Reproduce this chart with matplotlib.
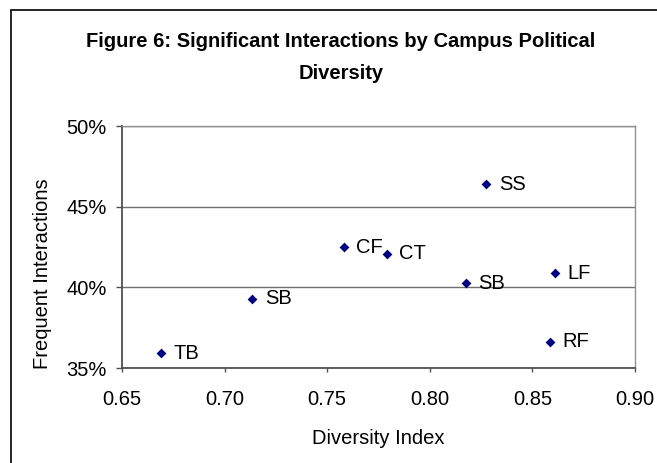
import matplotlib
matplotlib.use("Agg")
import matplotlib.pyplot as plt
from matplotlib.patches import Rectangle
from matplotlib.ticker import FuncFormatter

labels = ["TB", "SB", "CF", "CT", "SS", "SB", "LF", "RF"]
diversity = [0.669, 0.7135, 0.758, 0.779, 0.8275, 0.8175, 0.861, 0.8587]
frequent = [35.9, 39.3, 42.5, 42.07, 46.4, 40.25, 40.87, 36.63]

x_ticks = [0.65, 0.70, 0.75, 0.80, 0.85, 0.90]
y_ticks = [35, 40, 45, 50]

plt.rcParams['font.family'] = ['Liberation Sans', 'DejaVu Sans']

W, H = 657, 463
fig = plt.figure(figsize=(W / 100, H / 100), dpi=100)
fig.patch.set_facecolor('white')

# outer chart border
fig.add_artist(Rectangle((11 / W, -0.5), 2.0, 1.5 - 10 / H, transform=fig.transFigure,
                         fill=False, edgecolor='black', linewidth=1.2))

ax = fig.add_axes([122 / W, 1 - 368 / H, (635 - 122) / W, (368 - 126) / H])
ax.scatter(diversity, frequent, marker='D', s=5.0 ** 2, color='#000080', zorder=3,
           linewidths=0)
for xv, yv, lab in zip(diversity, frequent, labels):
    ax.annotate(lab, (xv, yv), xytext=(9, 0), textcoords='offset points',
                va='center', ha='left', fontsize=14.5, color='black', zorder=4)

ax.set_xlim(0.65, 0.90)
ax.set_ylim(35, 50)
ax.set_xticks(x_ticks)
ax.set_yticks(y_ticks)
ax.xaxis.set_major_formatter(FuncFormatter(lambda v, p: f"{v:.2f}"))
ax.yaxis.set_major_formatter(FuncFormatter(lambda v, p: f"{v:.0f}%"))
ax.yaxis.grid(True, color='#707070', linewidth=1.0)
ax.set_axisbelow(True)

for s in ['left', 'bottom']:
    ax.spines[s].set_color('#505050')
    ax.spines[s].set_linewidth(1.3)
for s in ['right', 'top']:
    ax.spines[s].set_color('#909090')
    ax.spines[s].set_linewidth(1.0)

ax.tick_params(axis='y', direction='out', length=4.5, width=1.0, color='#505050',
               labelsize=14.5, pad=6.5)
ax.tick_params(axis='x', direction='out', length=3, width=1.0, color='#505050',
               labelsize=14.5, pad=13)

ax.set_xlabel("Diversity Index", fontsize=14.5, labelpad=14)

fig.text(43 / W, 1 - 274 / H, "Frequent Interactions", rotation=90,
         ha='center', va='center', fontsize=14.5)

fig.text(341 / W, 1 - 47 / H, "Figure 6: Significant Interactions by Campus Political",
         ha='center', va='baseline', fontsize=14.5, fontweight='bold')
fig.text(341 / W, 1 - 79 / H, "Diversity",
         ha='center', va='baseline', fontsize=14.5, fontweight='bold')

fig.savefig("out.png", dpi=100)
